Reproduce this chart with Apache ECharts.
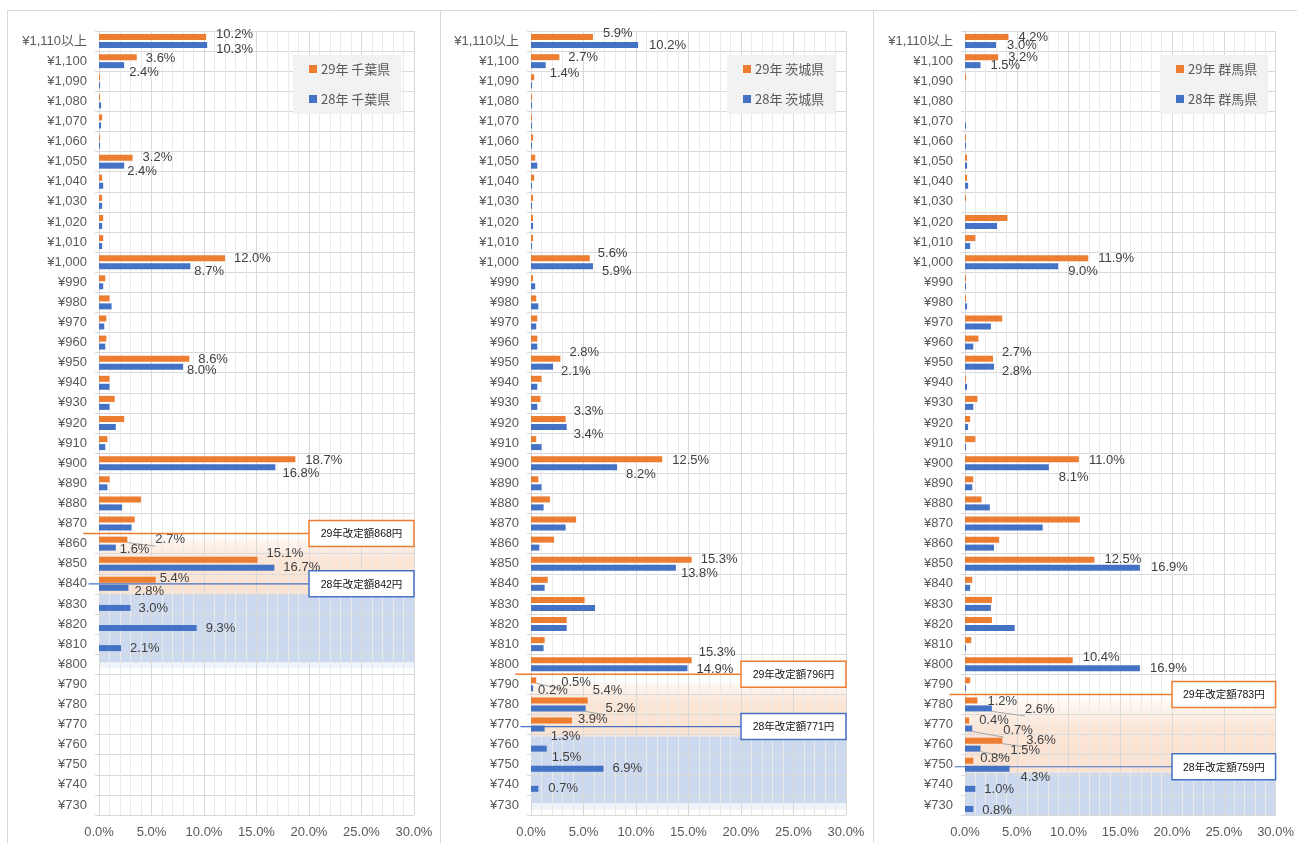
<!DOCTYPE html>
<html><head><meta charset="utf-8">
<script src="https://cdn.jsdelivr.net/npm/echarts@6/dist/echarts.min.js"></script>
<style>html,body{margin:0;padding:0;background:#fff}#c{width:1297px;height:843px}</style>
</head><body><div id="c"></div>
<script>
// ---------- DATA ----------
const categories = ['¥730','¥740','¥750','¥760','¥770','¥780','¥790','¥800','¥810','¥820','¥830','¥840','¥850','¥860','¥870','¥880','¥890','¥900','¥910','¥920','¥930','¥940','¥950','¥960','¥970','¥980','¥990','¥1,000','¥1,010','¥1,020','¥1,030','¥1,040','¥1,050','¥1,060','¥1,070','¥1,080','¥1,090','¥1,100','¥1,110以上'];
const xTickValues = [0, 5, 10, 15, 20, 25, 30];

const seriesNames = {
  chiba: ['29年 千葉県', '28年 千葉県'],
  ibaraki: ['29年 茨城県', '28年 茨城県'],
  gunma: ['29年 群馬県', '28年 群馬県']
};

const chiba29 = [0,0,0,0,0,0,0,0,0,0,0,5.4,15.1,2.7,3.4,4.0,1.0,18.7,0.8,2.4,1.5,1.0,8.6,0.7,0.7,1.0,0.6,12.0,0.4,0.4,0.3,0.3,3.2,0.1,0.3,0.1,0.1,3.6,10.2];
const chiba28 = [0,0,0,0,0,0,0,0,2.1,9.3,3.0,2.8,16.7,1.6,3.1,2.2,0.8,16.8,0.6,1.6,1.0,1.0,8.0,0.6,0.5,1.2,0.4,8.7,0.3,0.3,0.3,0.4,2.4,0.1,0.2,0.2,0.1,2.4,10.3];
const ibaraki29 = [0,0,0,0,3.9,5.4,0.5,15.3,1.3,3.4,5.1,1.6,15.3,2.2,4.3,1.8,0.7,12.5,0.5,3.3,0.9,1.0,2.8,0.6,0.6,0.5,0.2,5.6,0.2,0.2,0.2,0.3,0.4,0.2,0.1,0.1,0.3,2.7,5.9];
const ibaraki28 = [0,0.7,6.9,1.5,1.3,5.2,0.2,14.9,1.2,3.4,6.1,1.3,13.8,0.8,3.3,1.2,1.0,8.2,1.0,3.4,0.6,0.6,2.1,0.6,0.5,0.7,0.4,5.9,0.1,0.2,0.1,0.1,0.6,0.1,0.1,0.1,0.1,1.4,10.2];
const gunma29 = [0,0,0.8,3.6,0.4,1.2,0.5,10.4,0.6,2.6,2.6,0.7,12.5,3.3,11.1,1.6,0.8,11.0,1.0,0.5,1.2,0.1,2.7,1.3,3.6,0.1,0.1,11.9,1.0,4.1,0.1,0.2,0.2,0.1,0,0,0.1,3.2,4.2];
const gunma28 = [0.8,1.0,4.3,1.5,0.7,2.6,0.1,16.9,0.1,4.8,2.5,0.5,16.9,2.8,7.5,2.4,0.7,8.1,0.1,0.3,0.8,0.2,2.8,0.8,2.5,0.2,0.1,9.0,0.5,3.1,0,0.3,0.2,0.1,0.1,0,0,1.5,3.0];

// categories whose bars carry a value label
const chiba29Labeled = ['¥1,110以上','¥1,100','¥1,050','¥1,000','¥950','¥900','¥860','¥850','¥840'];
const chiba28Labeled = ['¥1,110以上','¥1,100','¥1,050','¥1,000','¥950','¥900','¥860','¥850','¥840','¥830','¥820','¥810'];
const ibaraki29Labeled = ['¥1,110以上','¥1,100','¥1,000','¥950','¥920','¥900','¥850','¥800','¥790','¥780','¥770'];
const ibaraki28Labeled = ['¥1,110以上','¥1,100','¥1,000','¥950','¥920','¥900','¥850','¥800','¥790','¥780','¥770','¥760','¥750','¥740'];
const gunma29Labeled = ['¥1,110以上','¥1,100','¥1,000','¥950','¥900','¥850','¥800','¥780','¥770','¥760','¥750'];
const gunma28Labeled = ['¥1,110以上','¥1,100','¥1,000','¥950','¥900','¥850','¥800','¥780','¥770','¥760','¥750','¥740','¥730'];

// minimum wage revision notes (yen scale)
const chibaNotes = [{ year: '29', text: '29年改定額868円', at: 865 }, { year: '28', text: '28年改定額842円', at: 840 }];
const ibarakiNotes = [{ year: '29', text: '29年改定額796円', at: 795 }, { year: '28', text: '28年改定額771円', at: 769 }];
const gunmaNotes = [{ year: '29', text: '29年改定額783円', at: 785 }, { year: '28', text: '28年改定額759円', at: 749 }];

// shaded wage bands (yen scale: from, to, kind)
const chibaBands = [[863, 835, 0], [835, 801, 1], [801, 798, 2]];
const ibarakiBands = [[791, 764, 0], [764, 731, 1], [731, 727.5, 2]];
const gunmaBands = [[782, 746, 0], [746, 725, 1]];

// ---------- STYLE ----------
const ORANGE = '#ED7D31', BLUE = '#4472C4';
const FONT = "'Liberation Sans', 'Noto Sans CJK JP', sans-serif";
const XMIN = 0, XMAX = 30;
const YEN_MIN = 725, YEN_MAX = 1115;

// label offsets [dx, dy, leaderLine]
const labelTweaks = {
  chiba29: {'¥1,110以上':[1,-3],'¥1,100':[0,1],'¥1,050':[1,0],'¥1,000':[0,0],'¥950':[0,1],'¥900':[1,1],'¥860':[19,0,1],'¥850':[0,-6],'¥840':[-5,-1]},
  chiba28: {'¥1,110以上':[0,4],'¥1,100':[-4,7],'¥1,050':[-6,6],'¥1,000':[-5,5],'¥950':[-5,4],'¥900':[-2,6],'¥860':[-5,2],'¥850':[0,0],'¥840':[-3,4],'¥830':[-1,1],'¥820':[0,0],'¥810':[0,0]},
  ibaraki29: {'¥1,110以上':[1,-4],'¥1,100':[0,0],'¥1,000':[-1,-5],'¥950':[0,-6],'¥920':[-1,-8],'¥900':[1,1],'¥850':[0,0],'¥800':[-2,-8],'¥790':[16,2,1],'¥780':[-4,-10],'¥770':[-3,-1]},
  ibaraki28: {'¥1,110以上':[2,0],'¥1,100':[-5,8],'¥1,000':[0,5],'¥950':[-1,5],'¥920':[-2,7],'¥900':[0,7],'¥850':[-4,6],'¥800':[0,1],'¥790':[-4,2],'¥780':[11,0,1],'¥770':[-3,8],'¥760':[-4,9],'¥750':[0,0],'¥740':[1,0]},
  gunma29: {'¥1,110以上':[1,0],'¥1,100':[1,0],'¥1,000':[1,0],'¥950':[0,-6],'¥900':[1,1],'¥850':[1,0],'¥800':[1,-3],'¥780':[1,1],'¥770':[1,0],'¥760':[15,0,1],'¥750':[-2,-2]},
  gunma28: {'¥1,110以上':[2,0],'¥1,100':[1,0],'¥1,000':[1,5],'¥950':[-1,5],'¥900':[1,10],'¥850':[2,0],'¥800':[1,0],'¥780':[24,1,1],'¥770':[22,2,1],'¥760':[21,2,1],'¥750':[2,9],'¥740':[0,1],'¥730':[0,1]}
};

const panels = [
  { key: 'chiba', d29: chiba29, d28: chiba28, l29: chiba29Labeled, l28: chiba28Labeled, notes: chibaNotes, bands: chibaBands, left: 99, legendLeft: 293 },
  { key: 'ibaraki', d29: ibaraki29, d28: ibaraki28, l29: ibaraki29Labeled, l28: ibaraki28Labeled, notes: ibarakiNotes, bands: ibarakiBands, left: 531, legendLeft: 727 },
  { key: 'gunma', d29: gunma29, d28: gunma28, l29: gunma29Labeled, l28: gunma28Labeled, notes: gunmaNotes, bands: gunmaBands, left: 965, legendLeft: 1160 }
];

function barData(values, labeled, tweaks) {
  return values.map((v, i) => {
    const cat = categories[i];
    const item = { value: v };
    if (labeled.indexOf(cat) >= 0) {
      const t = tweaks[cat] || [0, 0];
      item.label = { show: true, offset: [t[0], t[1]] };
      if (t[2]) item.labelLine = { show: true, lineStyle: { color: '#A6A6A6', width: 1 } };
    }
    return item;
  });
}

const bandStyles = [
  { type: 'linear', x: 0, y: 0, x2: 0, y2: 1, colorStops: [
    { offset: 0, color: 'rgba(247,203,172,0.12)' },
    { offset: 0.4, color: 'rgba(247,203,172,0.5)' },
    { offset: 1, color: 'rgba(247,203,172,0.55)' } ] },
  'rgba(180,199,231,0.68)',
  'rgba(180,199,231,0.22)'
];

const grids = [], xAxes = [], yAxes = [], series = [], legends = [];

panels.forEach((p, gi) => {
  grids.push({ left: p.left, width: 315, top: 31, height: 784 });
  xAxes.push({
    type: 'value', gridIndex: gi, min: XMIN, max: XMAX, interval: 5,
    axisLine: { show: false }, axisTick: { show: false },
    axisLabel: { color: '#595959', fontSize: 13, fontFamily: FONT, margin: 11,
      formatter: v => (xTickValues.indexOf(v) >= 0 ? v.toFixed(1) + '%' : '') },
    splitLine: { show: true, lineStyle: { color: '#D9D9D9', width: 1 } },
    minorTick: { show: false, splitNumber: 5 },
    minorSplitLine: { show: true, lineStyle: { color: '#EAEAEA', width: 1 } }
  });
  yAxes.push({
    type: 'category', gridIndex: gi, data: categories,
    axisLine: { show: true, lineStyle: { color: '#D9D9D9' } },
    axisTick: { show: true, length: 4, lineStyle: { color: '#D9D9D9' } },
    axisLabel: { color: '#595959', fontSize: 13, fontFamily: FONT, margin: 12, interval: 0 },
    splitLine: { show: true, interval: 0, lineStyle: { color: '#D9D9D9' } }
  });
});
panels.forEach((p, gi) => {
  yAxes.push({ type: 'value', gridIndex: gi, min: YEN_MIN, max: YEN_MAX, show: false, splitLine: { show: false } });
});

const barLabel = {
  show: false, position: 'right', distance: 9, color: '#404040', fontSize: 13, fontFamily: FONT,
  formatter: prm => prm.value.toFixed(1) + '%'
};

panels.forEach((p, gi) => {
  const names = seriesNames[p.key];
  series.push({
    name: names[0], type: 'bar', xAxisIndex: gi, yAxisIndex: gi,
    barWidth: 6, barGap: '33%', z: 3,
    itemStyle: { color: ORANGE },
    label: barLabel, labelLine: { show: false },
    data: barData(p.d29, p.l29, labelTweaks[p.key + '29']),
    animation: false
  });
  series.push({
    name: names[1], type: 'bar', xAxisIndex: gi, yAxisIndex: gi,
    barWidth: 6, barGap: '33%', z: 3,
    itemStyle: { color: BLUE },
    label: barLabel, labelLine: { show: false },
    data: barData(p.d28, p.l28, labelTweaks[p.key + '28']),
    animation: false
  });
  // shaded bands under the grid lines
  series.push({
    type: 'custom', xAxisIndex: gi, yAxisIndex: 3 + gi, z: -1, silent: true, animation: false,
    data: p.bands.map(b => [XMIN, b[0], b[1], b[2]]),
    renderItem: (params, api) => {
      const a = api.coord([XMIN, api.value(1)]);
      const b = api.coord([XMAX, api.value(2)]);
      return { type: 'rect', shape: { x: a[0], y: a[1], width: b[0] - a[0], height: b[1] - a[1] },
        style: { fill: bandStyles[api.value(3)] } };
    }
  });
  // revision lines + boxes
  series.push({
    type: 'custom', xAxisIndex: gi, yAxisIndex: 3 + gi, z: 6, silent: true, animation: false, clip: false,
    data: p.notes.map(n => [20, n.at]),
    renderItem: (params, api) => {
      const n = p.notes[params.dataIndex];
      const col = n.year === '29' ? ORANGE : BLUE;
      const startX = n.year === '29' ? -1.5 : -1.0;
      const s = api.coord([startX, api.value(1)]);
      const e = api.coord([20, api.value(1)]);
      const r = api.coord([XMAX, api.value(1)]);
      const h = 26;
      return { type: 'group', children: [
        { type: 'line', shape: { x1: s[0], y1: s[1], x2: e[0], y2: e[1] },
          style: { stroke: col, lineWidth: n.year === '29' ? 1.5 : 1.2 } },
        { type: 'rect', shape: { x: e[0], y: e[1] - h / 2, width: r[0] - e[0], height: h },
          style: { fill: '#fff', stroke: col, lineWidth: 1.5 } },
        { type: 'text', x: (e[0] + r[0]) / 2, y: e[1] + 1,
          style: { text: n.text, fill: '#111', font: "10.5px 'Liberation Sans', 'Noto Sans CJK JP', sans-serif",
            align: 'center', verticalAlign: 'middle' } }
      ] };
    }
  });
  legends.push({
    data: names, left: p.legendLeft, top: 55, orient: 'vertical', icon: 'rect',
    itemWidth: 8, itemHeight: 8, itemGap: 16, selectedMode: false,
    backgroundColor: '#F2F2F2', padding: [7, 11, 8, 16],
    textStyle: { color: '#595959', fontSize: 13, fontFamily: "'Noto Sans CJK JP', sans-serif", lineHeight: 14, padding: [0, 0, 0, -1] }
  });
});

const borderColor = '#D9D9D9';
const chart = echarts.init(document.getElementById('c'), null, { renderer: 'canvas' });
chart.setOption({
  animation: false,
  backgroundColor: '#fff',
  grid: grids, xAxis: xAxes, yAxis: yAxes, series: series, legend: legends,
  graphic: [
    { type: 'line', shape: { x1: 7.5, y1: 10.5, x2: 1297, y2: 10.5 }, style: { stroke: borderColor, lineWidth: 1 }, silent: true },
    { type: 'line', shape: { x1: 7.5, y1: 10.5, x2: 7.5, y2: 843 }, style: { stroke: borderColor, lineWidth: 1 }, silent: true },
    { type: 'line', shape: { x1: 440.5, y1: 10.5, x2: 440.5, y2: 843 }, style: { stroke: borderColor, lineWidth: 1 }, silent: true },
    { type: 'line', shape: { x1: 873.5, y1: 10.5, x2: 873.5, y2: 843 }, style: { stroke: borderColor, lineWidth: 1 }, silent: true }
  ]
});
</script>
</body></html>
